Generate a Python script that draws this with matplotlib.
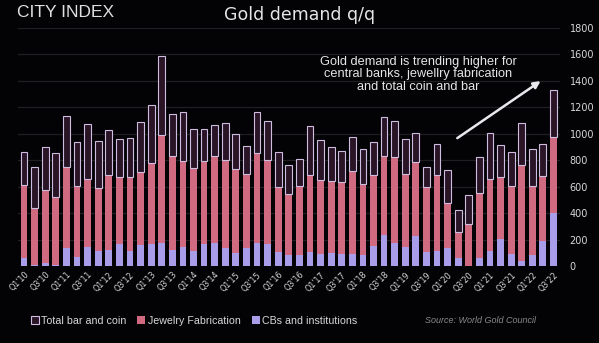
import matplotlib.pyplot as plt
from matplotlib.patches import Patch

# quarterly gold demand, tonnes (Q1'10 .. Q3'22)
quarters = [f"Q{q}'{y:02d}" for y in range(10, 23) for q in (1, 2, 3, 4)][:51]

cbs = [58, 5, 25, 5, 139, 66, 146, 116, 121, 169, 116, 161, 167, 177, 121, 141,
       116, 164, 172, 134, 101, 139, 172, 164, 108, 83, 83, 108, 88, 96, 91, 91,
       83, 151, 235, 172, 146, 227, 108, 116, 134, 58, 0, 58, 116, 202, 91, 40,
       86, 192, 404]
jewelry = [555, 437, 550, 520, 608, 539, 515, 472, 565, 502, 560, 553, 610, 815,
           707, 656, 628, 631, 661, 668, 631, 555, 681, 638, 492, 459, 525, 581,
           563, 550, 547, 631, 538, 538, 598, 650, 548, 563, 492, 573, 340, 202,
           315, 492, 540, 474, 517, 724, 522, 489, 575]
bar_coin = [252, 305, 323, 328, 388, 329, 414, 358, 343, 288, 295, 376, 442, 598,
            322, 364, 290, 242, 234, 278, 265, 217, 308, 296, 265, 223, 202, 371,
            298, 252, 235, 252, 262, 245, 297, 278, 265, 214, 147, 234, 253, 164,
            222, 272, 348, 237, 257, 316, 275, 242, 353]

BG = '#030204'
C_CB = '#a99ce8'
C_JEW = '#cf6a80'
C_BC = '#2a1526'
C_EDGE = '#cdbde0'
TXT = '#d8d8d8'

fig = plt.figure(figsize=(5.99, 3.43), dpi=100, facecolor=BG)
ax = fig.add_axes([0.0296, 0.2245, 0.905, 0.694], facecolor=BG)

x = list(range(len(quarters)))
w = 0.64
jew_top = [c + j for c, j in zip(cbs, jewelry)]

ax.bar(x, cbs, width=w, color=C_CB, zorder=3)
ax.bar(x, jewelry, width=w, bottom=cbs, color=C_JEW, zorder=3)
ax.bar(x, bar_coin, width=w, bottom=jew_top, color=C_BC,
       edgecolor=C_EDGE, linewidth=0.8, zorder=3)

ax.set_xlim(-0.6, len(quarters) - 0.4)
ax.set_ylim(0, 1800)
ax.set_yticks(range(0, 1801, 200))
ax.yaxis.tick_right()
ax.tick_params(axis='y', length=0, pad=7, labelsize=7, labelcolor=TXT)
for lbl in ax.get_yticklabels():
    lbl.set_horizontalalignment('left')
ax.grid(axis='y', color='#201e23', linewidth=0.9, zorder=0)

ax.set_xticks(x[::2])
ax.set_xticklabels(quarters[::2], rotation=45, ha='right',
                   rotation_mode='anchor', fontsize=5.8, color=TXT)
ax.tick_params(axis='x', length=0, pad=3)
for s in ax.spines.values():
    s.set_visible(False)

# annotation with arrow
ax.text(37.2, 1450, 'Gold demand is trending higher for\n'
        'central banks, jewellry fabrication\nand total coin and bar',
        ha='center', va='center', fontsize=9.2, color='#e6e6e6',
        family='Liberation Sans', linespacing=1.05)
ax.annotate('', xy=(49.0, 1410), xytext=(40.7, 955),
            arrowprops=dict(arrowstyle='-|>', color='#e8e8ee', lw=1.8,
                            mutation_scale=10))

# header
fig.text(0.028, 0.965, 'CITY INDEX', fontsize=12.5, color='#e0e0e0',
         family='Liberation Sans', va='center')
fig.text(0.5, 0.955, 'Gold demand q/q', fontsize=12.5, color='#e6e6e6',
         ha='center', va='center')

# legend + source
handles = [Patch(facecolor=C_BC, edgecolor=C_EDGE, linewidth=0.8, label='Total bar and coin'),
           Patch(facecolor=C_JEW, label='Jewelry Fabrication'),
           Patch(facecolor=C_CB, label='CBs and institutions')]
leg = fig.legend(handles=handles, loc='center left', bbox_to_anchor=(0.035, 0.065),
                 ncol=3, frameon=False, handlelength=0.75,
                 handleheight=0.75, handletextpad=0.25, columnspacing=1.0,
                 prop={'family': 'Liberation Sans', 'size': 7.7})
for t in leg.get_texts():
    t.set_color(TXT)
fig.text(0.71, 0.065, 'Source: World Gold Council', fontsize=6.5, color='#8a8a8a',
         style='italic', va='center', family='Liberation Sans')

fig.savefig('out.png', dpi=100, facecolor=BG)
